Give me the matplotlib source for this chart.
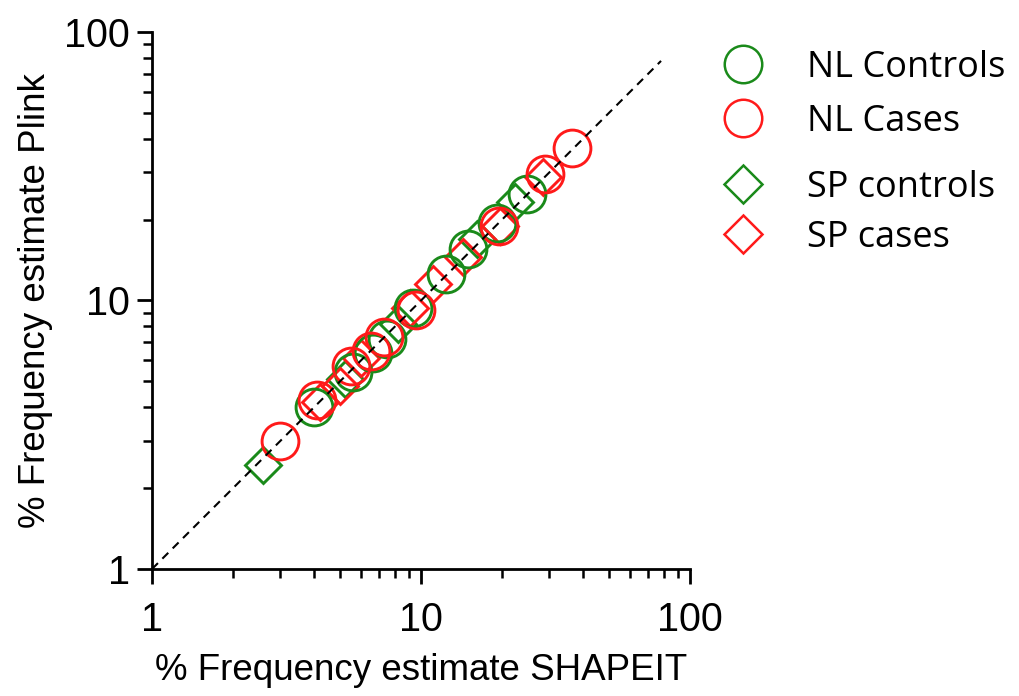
import matplotlib
matplotlib.use("Agg")
import matplotlib.pyplot as plt
from matplotlib.lines import Line2D
from matplotlib.ticker import LogLocator, NullFormatter, FixedLocator, FixedFormatter

plt.rcParams['font.family'] = ['Liberation Sans', 'DejaVu Sans']

# values (% frequency, SHAPEIT vs Plink)
nl_controls_x = [4.0, 5.6, 6.6, 7.5, 9.3, 12.4, 15.0, 19.2, 24.8]
nl_controls_y = [4.0, 5.4, 6.4, 7.2, 9.4, 12.6, 15.6, 19.5, 25.0]
nl_cases_x = [3.0, 4.1, 5.5, 6.5, 7.3, 9.6, 19.5, 29.0, 36.5]
nl_cases_y = [3.0, 4.25, 5.7, 6.5, 7.3, 9.2, 19.0, 29.5, 37.0]
sp_controls_x = [2.58, 5.2, 8.2, 16.2, 22.4]
sp_controls_y = [2.44, 5.1, 8.2, 17.0, 23.2]
sp_cases_x = [4.2, 5.0, 6.0, 9.1, 11.1, 14.3, 19.6, 28.5]
sp_cases_y = [4.2, 4.8, 6.1, 9.4, 11.5, 14.5, 18.9, 28.8]
diag = [1.0, 78.0]
ticks = [1, 10, 100]
tick_labels = ['1', '10', '100']
legend_labels = ['NL Controls', 'NL Cases', 'SP controls', 'SP cases']

GREEN = '#1a8a1a'
RED = '#ff1a1a'
circ_ms = 26.5
diam_ms = 18.8
mew = 2.1

fig = plt.figure(figsize=(10.19, 6.96), dpi=100)
ax = fig.add_axes([0.1492, 0.1825, 0.528, 0.7716])

ax.plot(sp_controls_x, sp_controls_y, 'D', ms=diam_ms, mfc='none', mec=GREEN, mew=mew, ls='none')
ax.plot(sp_cases_x, sp_cases_y, 'D', ms=diam_ms, mfc='none', mec=RED, mew=mew, ls='none')
ax.plot(nl_controls_x, nl_controls_y, 'o', ms=circ_ms, mfc='none', mec=GREEN, mew=mew, ls='none')
ax.plot(nl_cases_x, nl_cases_y, 'o', ms=circ_ms, mfc='none', mec=RED, mew=mew, ls='none')
ax.plot(diag, diag, color='black', ls=(0, (4, 3)), lw=1.5, zorder=5)

ax.set_xscale('log')
ax.set_yscale('log')
ax.set_xlim(1, 100)
ax.set_ylim(1, 100)

for a in (ax.xaxis, ax.yaxis):
    a.set_major_locator(FixedLocator(ticks))
    a.set_major_formatter(FixedFormatter(tick_labels))
    a.set_minor_locator(LogLocator(base=10, subs=range(2, 10)))
    a.set_minor_formatter(NullFormatter())

for s in ('top', 'right'):
    ax.spines[s].set_visible(False)
for s in ('left', 'bottom'):
    ax.spines[s].set_linewidth(2.0)

ax.tick_params(which='major', direction='out', length=11, width=2.0, labelsize=28.5, pad=12)
ax.tick_params(which='minor', direction='out', length=6.5, width=1.8)
ax.tick_params(axis='y', which='major', pad=5)

ax.set_xlabel('% Frequency estimate SHAPEIT', fontsize=26.5, labelpad=10)
ax.set_ylabel('% Frequency estimate Plink', fontsize=26.5, labelpad=8)

# legend: one entry per row, rows placed where the reference has them
leg_size = 26
leg_font = {'family': ['Open Sans', 'DejaVu Sans'], 'size': leg_size}
handles = [
    Line2D([], [], marker='o', ls='none', ms=27, mfc='none', mec=GREEN, mew=1.8),
    Line2D([], [], marker='o', ls='none', ms=27, mfc='none', mec=RED, mew=1.8),
    Line2D([], [], marker='D', ls='none', ms=19, mfc='none', mec=GREEN, mew=1.8),
    Line2D([], [], marker='D', ls='none', ms=19, mfc='none', mec=RED, mew=1.8),
]
row_y = [68, 122, 188, 238]
fs_px = leg_size * 100 / 72
for h, lab, yp in zip(handles, legend_labels, row_y):
    leg = fig.legend([h], [lab], loc='center left',
                     bbox_to_anchor=((743 - fs_px / 2) / 1019, 1 - yp / 696),
                     frameon=False, prop=leg_font, borderpad=0, borderaxespad=0,
                     handlelength=1.0, handletextpad=(807 - 743 - fs_px / 2) / fs_px)

fig.savefig('out.png', dpi=100)
